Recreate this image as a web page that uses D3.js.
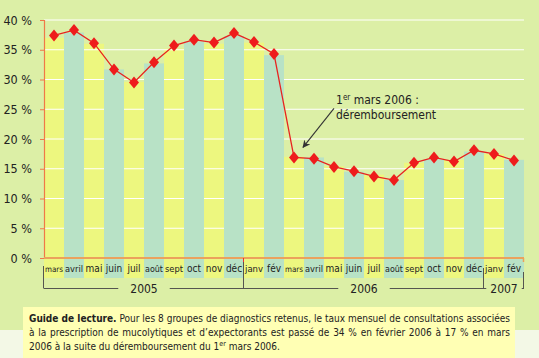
<!DOCTYPE html>
<html><head><meta charset="utf-8">
<script src="https://cdn.jsdelivr.net/npm/d3@7"></script>
<style>
html,body{margin:0;padding:0;background:#f3f8e6;}
svg{display:block;}
</style></head>
<body>
<script>
const months = ["mars","avril","mai","juin","juil","août","sept","oct","nov","déc",
  "janv","fév","mars","avril","mai","juin","juil","août","sept","oct","nov","déc",
  "janv","fév"];
const barValues = [37.0,37.9,36.0,31.7,29.6,32.7,35.2,36.4,36.0,37.3,36.2,34.1,
  17.0,16.9,15.4,14.5,14.0,13.1,16.0,16.6,16.5,17.9,17.5,16.5];
const lineValues = [37.4,38.3,36.1,31.7,29.5,32.9,35.7,36.7,36.2,37.8,36.3,34.3,
  16.9,16.7,15.3,14.6,13.7,13.1,16.0,16.9,16.2,18.1,17.5,16.4];
const yTicks = [0,5,10,15,20,25,30,35,40];
const yearLabels = ["2005","2006","2007"];
const yearMonthCounts = [10,12,2];
const annotationLines = ["mars 2006 :","déremboursement"];
const guideLines = [
  "Pour les 8 groupes de diagnostics retenus, le taux mensuel de consultations associées",
  "à la prescription de mucolytiques et d’expectorants est passé de 34 % en février 2006 à 17 % en mars",
  "2006 à la suite du déremboursement du 1"
];

const W = 539, H = 358;
const chartFont = "'DejaVu Sans Condensed',sans-serif";
const textFont = "'DejaVu Sans Condensed',sans-serif";
const svg = d3.select("body").append("svg").attr("width", W).attr("height", H);

svg.append("rect").attr("width", W).attr("height", H).attr("fill", "#f3f8e6");
svg.append("rect").attr("width", W).attr("height", 330).attr("fill", "#dcefa6");

const x = d3.scaleBand().domain(d3.range(months.length)).range([44, 524]).padding(0);
const y = d3.scaleLinear().domain([0, 40]).range([258, 20]);
const bw = x.bandwidth();
const bandBottom = 278;
const colors = ["#edf77f", "#b8e2c6"];

// yellow bars (behind gridlines)
svg.append("g").selectAll("rect").data(barValues.map((v,i)=>({v,i})).filter(d=>d.i%2===0))
  .join("rect").attr("x", d=>x(d.i)).attr("width", bw)
  .attr("y", d=>y(d.v)).attr("height", d=>bandBottom - y(d.v)).attr("fill", colors[0]);

// gridlines
svg.append("g").selectAll("line").data(yTicks.filter(t=>t>0)).join("line")
  .attr("x1", 44).attr("x2", 524).attr("y1", d=>y(d)).attr("y2", d=>y(d))
  .attr("stroke", "#ffffff").attr("stroke-width", 1.2);

// teal bars
svg.append("g").selectAll("rect").data(barValues.map((v,i)=>({v,i})).filter(d=>d.i%2===1))
  .join("rect").attr("x", d=>x(d.i)).attr("width", bw)
  .attr("y", d=>y(d.v)).attr("height", d=>bandBottom - y(d.v)).attr("fill", colors[1]);

// y axis
const ya = svg.append("g").attr("transform", "translate(44,0)")
  .call(d3.axisLeft(y).tickValues(yTicks).tickFormat(d=>d+" %").tickSize(4).tickPadding(8));
ya.select(".domain").attr("stroke", "#f07848").attr("stroke-width", 1.2);
ya.selectAll(".tick line").attr("stroke", "#f07848");
ya.selectAll(".tick text").attr("font-family", chartFont).attr("font-size", 12.5).attr("fill", "#222");

// x axis line
svg.append("line").attr("x1", 44).attr("x2", 524).attr("y1", y(0)).attr("y2", y(0))
  .attr("stroke", "#eba25c").attr("stroke-width", 2);
svg.append("line").attr("x1", 523.5).attr("x2", 523.5).attr("y1", y(0)).attr("y2", y(0)+4)
  .attr("stroke", "#eba25c").attr("stroke-width", 1.5);

// month labels (font size shrinks so each label fits its column)
const maxW = bw - 2;
svg.append("g").selectAll("text").data(months).join("text")
  .attr("x", (d,i)=>x(i)+bw/2).attr("y", 272).attr("text-anchor", "middle")
  .attr("font-family", chartFont).attr("font-size", 10).attr("fill", "#222")
  .text(d=>d)
  .each(function(){ const w = this.getComputedTextLength(); if (w > maxW) d3.select(this).attr("font-size", (10 * maxW / w).toFixed(2)); });

// year brackets
const yb = svg.append("g");
const bracketY = 288.5;
let start = 0;
yearLabels.forEach((lab, k) => {
  const end = start + yearMonthCounts[k];
  const x0 = x(start), x1 = x(end-1) + bw;
  const cx = (x0 + x1) / 2;
  const t = yb.append("text").attr("x", cx).attr("y", 293).attr("text-anchor", "middle")
    .attr("font-family", chartFont).attr("font-size", 12).attr("fill", "#222").text(lab);
  const tw = t.node().getComputedTextLength();
  const gap = k === 2 ? 4 : 12;
  yb.append("line").attr("x1", x0).attr("x2", cx - tw/2 - gap).attr("y1", bracketY).attr("y2", bracketY)
    .attr("stroke", "#555550").attr("stroke-width", 1);
  yb.append("line").attr("x1", cx + tw/2 + gap).attr("x2", x1).attr("y1", bracketY).attr("y2", bracketY)
    .attr("stroke", "#555550").attr("stroke-width", 1);
  start = end;
});
// vertical separators
const sepIdx = [0, 10, 22, 24];
const sepTop = [266, 258, 268, 272];
sepIdx.forEach((idx, j) => {
  const sx = Math.round(idx < months.length ? x(idx) : x(idx-1) + bw) - 0.5;
  yb.append("line").attr("x1", sx).attr("x2", sx).attr("y1", sepTop[j]).attr("y2", bracketY)
    .attr("stroke", "#555550").attr("stroke-width", 1);
});
svg.append("line").attr("x1", x(10)-0.5).attr("x2", x(10)-0.5).attr("y1", y(0)).attr("y2", y(0)+4)
  .attr("stroke", "#f03030").attr("stroke-width", 1);

// line series
svg.append("path").datum(lineValues)
  .attr("d", d3.line().x((d,i)=>x(i)+bw/2).y(d=>y(d)))
  .attr("fill", "none").attr("stroke", "#e8231f").attr("stroke-width", 1.3);
svg.append("g").selectAll("path").data(lineValues).join("path")
  .attr("d", "M0,-6L5,0L0,6L-5,0Z")
  .attr("transform", (d,i)=>`translate(${x(i)+bw/2},${y(d)})`)
  .attr("fill", "#ee1c1c");

// annotation
const ax = x(12) + bw/2, ay = y(lineValues[12]);
svg.append("defs").append("marker").attr("id", "arr").attr("viewBox", "0 0 10 10")
  .attr("refX", 9).attr("refY", 5).attr("markerWidth", 7).attr("markerHeight", 7)
  .attr("orient", "auto").append("path").attr("d", "M0,0L10,5L0,10L3,5Z").attr("fill", "#333");
svg.append("line").attr("x1", ax + 40).attr("y1", ay - 49).attr("x2", ax + 9).attr("y2", ay - 10)
  .attr("stroke", "#333").attr("stroke-width", 1.1).attr("marker-end", "url(#arr)");
const at = svg.append("text").attr("font-family", chartFont).attr("font-size", 12).attr("fill", "#222");
const a1 = at.append("tspan").attr("x", ax + 42).attr("y", ay - 53);
a1.append("tspan").text("1");
a1.append("tspan").attr("font-size", 8).attr("dy", -4).text("er");
a1.append("tspan").attr("dy", 4).text(" " + annotationLines[0]);
at.append("tspan").attr("x", ax + 42).attr("y", ay - 38).text(annotationLines[1]);

// guide box
svg.append("rect").attr("x", 23).attr("y", 307).attr("width", 492).attr("height", 60).attr("fill", "#ffffb4");
const gx0 = 29, gx1 = 510;
const g = svg.append("g").attr("font-family", textFont).attr("font-size", 10).attr("fill", "#222");
const l1 = g.append("text").attr("x", gx0).attr("y", 322);
l1.append("tspan").attr("font-weight", "bold").text("Guide de lecture.");
l1.append("tspan").text(" " + guideLines[0]);
const l2 = g.append("text").attr("x", gx0).attr("y", 336).text(guideLines[1]);
function justify(t, str) {
  const len = t.node().getComputedTextLength();
  const spaces = (str.match(/ /g) || []).length;
  t.attr("word-spacing", (gx1 - gx0 - len) / spaces);
}
justify(l1, "Guide de lecture. " + guideLines[0]);
justify(l2, guideLines[1]);
const l3 = g.append("text").attr("x", gx0).attr("y", 350);
l3.append("tspan").text(guideLines[2]);
l3.append("tspan").attr("font-size", 7).attr("dy", -4).text("er");
l3.append("tspan").attr("dy", 4).text(" mars 2006.");
</script>
</body></html>
